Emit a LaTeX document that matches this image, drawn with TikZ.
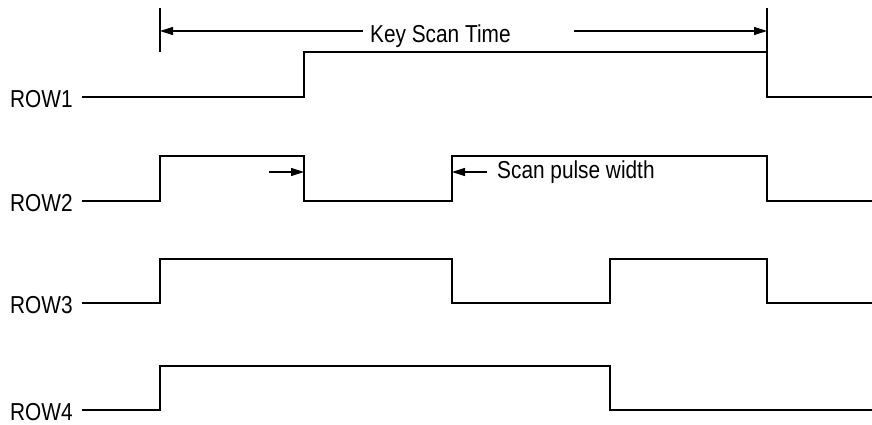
\documentclass[tikz,border=0pt]{standalone}
\usepackage{fontspec}
\setmainfont{Liberation Sans}[FakeStretch=0.85]
\usetikzlibrary{arrows.meta}
\begin{document}
\begin{tikzpicture}[x=1pt,y=-1pt,
  sig/.style={line width=1.3pt, line join=miter},
  tick/.style={line width=1.1pt},
  dim/.style={line width=1.1pt, -{Triangle[length=13pt,width=8pt]}},
  lbl/.style={font=\fontsize{24.5}{28}\selectfont, inner sep=0pt, anchor=base west}]
\useasboundingbox (0,0) rectangle (872,425);
% labels
\node[lbl] (r1) at (10,107) {ROW1};
\node[lbl] (r2) at (10,211) {ROW2};
\node[lbl] (r3) at (10,313) {ROW3};
\node[lbl] (r4) at (10,420) {ROW4};
\node[lbl] (ks) at (370,43) {Key Scan Time};
\node[lbl] (sp) at (497,178) {Scan pulse width};
% signals
\draw[sig] (82,97) -- (304,97) -- (304,52) -- (767,52) -- (767,97) -- (872,97);
\draw[sig] (82,201) -- (160,201) -- (160,156) -- (304,156) -- (304,201) -- (452,201) -- (452,156) -- (767,156) -- (767,201) -- (872,201);
\draw[sig] (82,303) -- (160,303) -- (160,259) -- (452,259) -- (452,303) -- (610,303) -- (610,259) -- (767,259) -- (767,303) -- (872,303);
\draw[sig] (82,410) -- (160,410) -- (160,366) -- (610,366) -- (610,410) -- (872,410);
% ticks
\coordinate (tlTop) at (160,8);
\coordinate (tlBot) at (160,52);
\coordinate (trTop) at (767,8);
\coordinate (trBot) at (767,52);
\draw[tick] (tlTop) -- (tlBot);
\draw[tick] (trTop) -- (trBot);
% key scan time dimension
\coordinate (kl0) at (363,31);
\coordinate (kl1) at (160,31);
\coordinate (kr0) at (574,31);
\coordinate (kr1) at (767,31);
\draw[dim] (kl0) -- (kl1);
\draw[dim] (kr0) -- (kr1);
% scan pulse width arrows
\coordinate (a0) at (269,172);
\coordinate (a1) at (304,172);
\coordinate (b0) at (487,172);
\coordinate (b1) at (452,172);
\draw[dim] (a0) -- (a1);
\draw[dim] (b0) -- (b1);
\end{tikzpicture}
\end{document}
